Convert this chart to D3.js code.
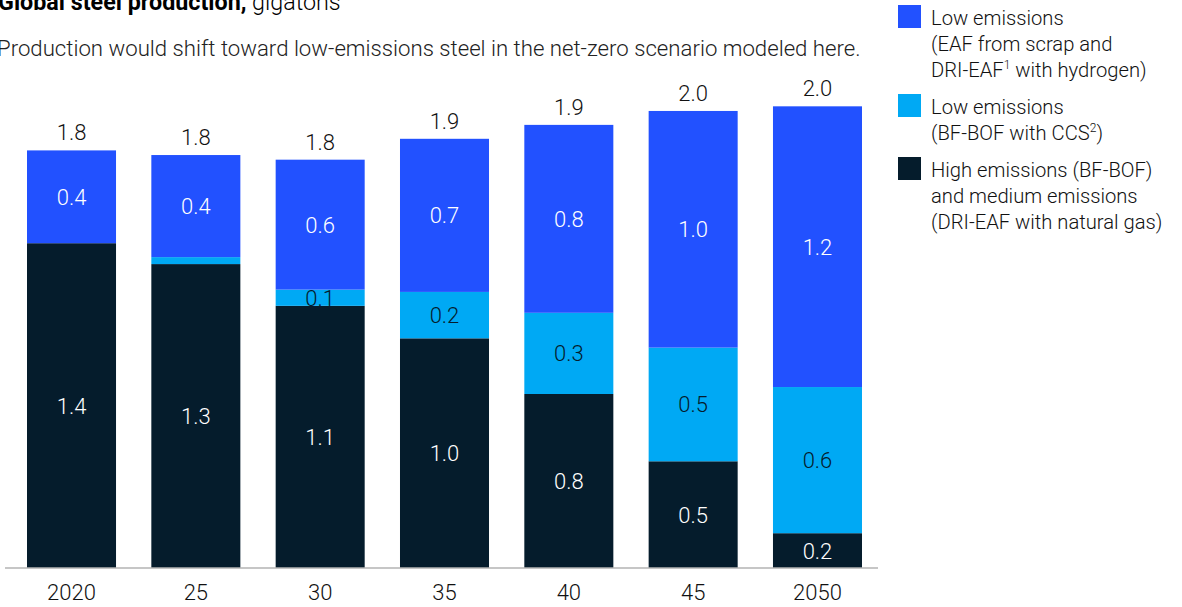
<!DOCTYPE html>
<html>
<head>
<meta charset="utf-8">
<script src="https://cdn.jsdelivr.net/npm/d3@7"></script>
<style>
  body { margin: 0; background: #fff; }
  svg { font-family: Roboto, "Liberation Sans", sans-serif; }
</style>
</head>
<body>
<div id="graph"></div>
<script>
// --------------------------------------
//  Data
// --------------------------------------

const years = ["2020", "25", "30", "35", "40", "45", "2050"];

const highEmissions = [1.40, 1.31, 1.13, 0.99, 0.75, 0.46, 0.15];
const ccsEmissions  = [0.00, 0.03, 0.07, 0.20, 0.35, 0.49, 0.63];
const lowEmissions  = [0.40, 0.44, 0.56, 0.66, 0.81, 1.02, 1.21];

const highLabels  = ["1.4", "1.3", "1.1", "1.0", "0.8", "0.5", "0.2"];
const ccsLabels   = ["", "", "0.1", "0.2", "0.3", "0.5", "0.6"];
const lowLabels   = ["0.4", "0.4", "0.6", "0.7", "0.8", "1.0", "1.2"];
const totalLabels = ["1.8", "1.8", "1.8", "1.9", "1.9", "2.0", "2.0"];

const seriesKeys = ["high", "ccs", "low"];
const colors = { high: "#051C2C", ccs: "#00A9F4", low: "#2251FF" };
const textColors = { high: "#fff", ccs: "#051C2C", low: "#fff" };

const legendItems = [
  { key: "low", lines: ["Low emissions", "(EAF from scrap and", ["DRI-EAF", "1", " with hydrogen)"]] },
  { key: "ccs", lines: ["Low emissions", ["(BF-BOF with CCS", "2", ")"]] },
  { key: "high", lines: ["High emissions (BF-BOF)", "and medium emissions", "(DRI-EAF with natural gas)"] }
];

const rows = years.map((y, i) => ({
  year: y,
  high: highEmissions[i],
  ccs: ccsEmissions[i],
  low: lowEmissions[i],
  labels: { high: highLabels[i], ccs: ccsLabels[i], low: lowLabels[i] },
  total: totalLabels[i]
}));

// --------------------------------------
//  Canvas
// --------------------------------------

const W = 1182, H = 607;
const svg = d3.select("#graph").append("svg")
  .attr("width", W).attr("height", H);

const x = d3.scaleBand()
  .domain(years)
  .range([5, 884])
  .paddingInner(0.284)
  .paddingOuter(0.177);

const y = d3.scaleLinear()
  .domain([0, 2])
  .range([568, 104]);

const stack = d3.stack().keys(seriesKeys);
const stacked = stack(rows);

const numSize = 22;

// --------------------------------------
//  Title
// --------------------------------------

const title = svg.append("text")
  .attr("x", -2).attr("y", 10)
  .attr("font-size", 23.3)
  .attr("fill", "#000");
title.append("tspan").attr("font-weight", 700).text("Global steel production,");
title.append("tspan").attr("font-weight", 300).text(" gigatons");

svg.append("text")
  .attr("x", -3).attr("y", 56)
  .attr("font-size", 22.2)
  .attr("font-weight", 300)
  .attr("fill", "#222")
  .text("Production would shift toward low-emissions steel in the net-zero scenario modeled here.");

// --------------------------------------
//  Bars
// --------------------------------------

const layer = svg.append("g")
  .selectAll("g")
  .data(stacked)
  .join("g")
  .attr("fill", d => colors[d.key]);

layer.selectAll("rect")
  .data(d => d.map(p => ({ key: d.key, p })))
  .join("rect")
  .attr("x", d => x(d.p.data.year))
  .attr("width", x.bandwidth())
  .attr("y", d => y(d.p[1]))
  .attr("height", d => y(d.p[0]) - y(d.p[1]));

// segment labels
stacked.forEach(s => {
  svg.append("g")
    .selectAll("text")
    .data(s.filter(p => p.data.labels[s.key] !== ""))
    .join("text")
    .attr("x", p => x(p.data.year) + x.bandwidth() / 2)
    .attr("y", p => (y(p[0]) + y(p[1])) / 2)
    .attr("dy", "0.36em")
    .attr("text-anchor", "middle")
    .attr("font-size", numSize)
    .attr("font-weight", 300)
    .attr("fill", textColors[s.key])
    .text(p => p.data.labels[s.key]);
});

// totals
const topLayer = stacked[stacked.length - 1];
svg.append("g")
  .selectAll("text")
  .data(topLayer)
  .join("text")
  .attr("x", p => x(p.data.year) + x.bandwidth() / 2)
  .attr("y", p => y(p[1]) - 10)
  .attr("text-anchor", "middle")
  .attr("font-size", numSize)
  .attr("font-weight", 300)
  .attr("fill", "#111")
  .text(p => p.data.total);

// --------------------------------------
//  Axis
// --------------------------------------

const xAxis = svg.append("g")
  .attr("transform", `translate(0,${y(0)})`)
  .call(d3.axisBottom(x).tickSize(0).tickPadding(16));

xAxis.select(".domain")
  .attr("d", "M5,0H878")
  .attr("stroke", "#b3b3b3")
  .attr("stroke-width", 1.5);

xAxis.selectAll("text")
  .attr("font-family", "Roboto, sans-serif")
  .attr("font-size", numSize)
  .attr("font-weight", 300)
  .attr("fill", "#111");

// --------------------------------------
//  Legend
// --------------------------------------

const legendTop = [5, 94, 157];
const legend = svg.append("g");

legendItems.forEach((item, i) => {
  const g = legend.append("g").attr("transform", `translate(898,${legendTop[i]})`);
  g.append("rect")
    .attr("width", 23).attr("height", 23)
    .attr("fill", colors[item.key]);
  item.lines.forEach((line, j) => {
    const t = g.append("text")
      .attr("x", 33)
      .attr("y", 20 + j * 26)
      .attr("font-size", 20.2)
      .attr("font-weight", 300)
      .attr("fill", "#111");
    if (Array.isArray(line)) {
      t.append("tspan").text(line[0]);
      t.append("tspan").attr("font-size", 12).attr("dy", -8).text(line[1]);
      t.append("tspan").attr("dy", 8).text(line[2]);
    } else {
      t.text(line);
    }
  });
});
</script>
</body>
</html>
